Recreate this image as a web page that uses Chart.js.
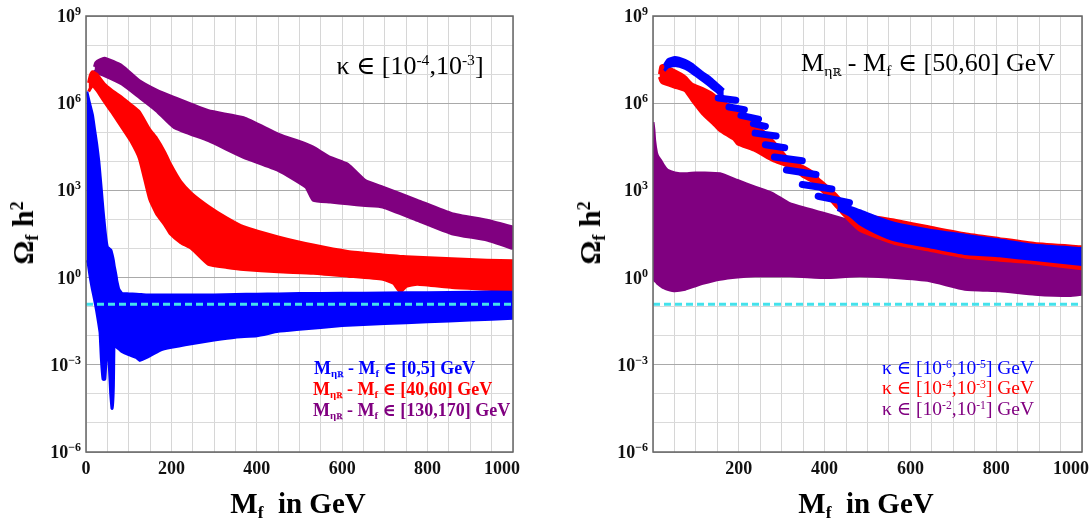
<!DOCTYPE html>
<html>
<head>
<meta charset="utf-8">
<title>Relic density scan</title>
<script src="https://cdn.jsdelivr.net/npm/chart.js@4.4.0/dist/chart.umd.min.js"></script>
<style>
html, body { margin: 0; padding: 0; background: #fff; }
#wrap { position: relative; width: 1092px; height: 521px; overflow: hidden;
        font-family: "Liberation Serif", "DejaVu Serif", serif; color: #000; }
canvas { position: absolute; top: 0; }
.lbl { position: absolute; white-space: nowrap; line-height: 1; }
.c { transform: translate(-50%, -50%); }
.l { transform: translate(0, -50%); }
.rot { transform: translate(-50%, -50%) rotate(-90deg); }
.sub { font-size: 0.6em; position: relative; top: 0.3em; }
.sup { font-size: 0.6em; position: relative; top: -0.55em; }
.bb { font-family: "DejaVu Serif", serif; font-size: 0.7em; }
.axt { font-weight: bold; font-size: 29px; }
.ayt { font-weight: bold; font-size: 30px; }
.ttl { font-size: 26px; }
.legL { font-size: 18px; font-weight: bold; }
.legR { font-size: 19.5px; }
</style>
</head>
<body>
<div id="wrap">
  <canvas id="left" width="546" height="521" style="left:0"></canvas>
  <canvas id="right" width="546" height="521" style="left:546px"></canvas>

  <div class="lbl rot ayt" style="left:23px; top:233px">Ω<span class="sub">f</span> h<span class="sup">2</span></div>
  <div class="lbl rot ayt" style="left:590px; top:233px">Ω<span class="sub">f</span> h<span class="sup">2</span></div>
  <div class="lbl c axt" style="left:298px; top:503px">M<span class="sub">f</span>&nbsp; in GeV</div>
  <div class="lbl c axt" style="left:866px; top:503px">M<span class="sub">f</span>&nbsp; in GeV</div>

  <div class="lbl c ttl" style="left:410px; top:66px">κ ∈ [10<span class="sup">-4</span>,10<span class="sup">-3</span>]</div>
  <div class="lbl c ttl" style="left:928px; top:63px">M<span class="sub">η<span class="bb">ℝ</span></span> - M<span class="sub">f</span> ∈ [50,60] GeV</div>

  <div class="lbl l legL" style="left:314px; top:368px; color:#0000ff">M<span class="sub">η<span class="bb">ℝ</span></span> - M<span class="sub">f</span> ∈ [0,5] GeV</div>
  <div class="lbl l legL" style="left:313px; top:389px; color:#ff0000">M<span class="sub">η<span class="bb">ℝ</span></span> - M<span class="sub">f</span> ∈ [40,60] GeV</div>
  <div class="lbl l legL" style="left:313px; top:410px; color:#800080">M<span class="sub">η<span class="bb">ℝ</span></span> - M<span class="sub">f</span> ∈ [130,170] GeV</div>

  <div class="lbl l legR" style="left:882px; top:368px; color:#0000ff">κ ∈ [10<span class="sup">-6</span>,10<span class="sup">-5</span>] GeV</div>
  <div class="lbl l legR" style="left:882px; top:388px; color:#ff0000">κ ∈ [10<span class="sup">-4</span>,10<span class="sup">-3</span>] GeV</div>
  <div class="lbl l legR" style="left:882px; top:409px; color:#800080">κ ∈ [10<span class="sup">-2</span>,10<span class="sup">-1</span>] GeV</div>
</div>
<script>
// values are log10(Omega h^2); x is M_f in GeV

// left panel, kappa in [1e-4,1e-3]
const blueLx    = [2, 5, 10, 15, 20, 25, 30, 33, 36, 40, 44, 47, 50, 54, 58, 61, 64, 66, 70, 72, 77, 85, 100, 118, 126, 142, 173, 200, 250, 300, 350, 400, 450, 500, 600, 700, 800, 900, 1000];
const blueLup   = [6.4, 6.2, 5.9, 5.6, 5.1, 4.6, 4.0, 3.5, 3.0, 2.3, 1.7, 1.3, 1.05, 1.0, 0.95, 0.8, 0.6, 0.4, 0.1, -0.1, -0.4, -0.55, -0.56, -0.57, -0.58, -0.6, -0.6, -0.6, -0.6, -0.6, -0.58, -0.57, -0.56, -0.55, -0.54, -0.53, -0.52, -0.5, -0.5];
const blueLlo   = [0.6, 0.5, 0.0, -0.4, -0.75, -1.15, -1.6, -1.9, -2.8, -3.5, -3.5, -2.8, -2.5, -2.9, -4.0, -4.5, -3.8, -2.0, -1.85, -2.4, -2.45, -2.55, -2.65, -2.75, -2.85, -2.75, -2.5, -2.4, -2.27, -2.15, -2.05, -2.0, -1.85, -1.78, -1.65, -1.58, -1.52, -1.46, -1.4];

const redLx     = [6, 10, 15, 25, 43, 60, 84, 105, 125, 149, 165, 185, 198, 222, 247, 287, 330, 369, 450, 532, 613, 695, 720, 736, 750, 776, 857, 939, 1000];
const redLup    = [6.7, 6.95, 7.08, 7.0, 6.66, 6.45, 6.2, 5.95, 5.7, 5.1, 4.8, 4.3, 3.9, 3.3, 2.9, 2.45, 2.05, 1.75, 1.4, 1.12, 0.9, 0.78, 0.75, 0.73, 0.72, 0.7, 0.65, 0.6, 0.58];
const redLlo    = [6.4, 6.5, 6.6, 6.45, 6.05, 5.7, 5.17, 4.7, 4.1, 2.7, 2.2, 1.8, 1.5, 1.2, 1.0, 0.45, 0.35, 0.28, 0.2, 0.15, 0.05, -0.06, -0.2, -0.5, -0.3, -0.23, -0.34, -0.4, -0.45];

const purpleLx  = [20, 23, 43, 84, 125, 165, 206, 287, 369, 450, 515, 532, 572, 613, 654, 695, 776, 857, 939, 1000];
const purpleLup = [7.25, 7.4, 7.55, 7.29, 6.77, 6.45, 6.2, 5.74, 5.5, 4.94, 4.6, 4.49, 4.14, 3.9, 3.34, 3.11, 2.66, 2.2, 1.97, 1.74];
const purpleLlo = [7.15, 7.06, 6.95, 6.66, 6.2, 5.74, 5.17, 4.71, 4.14, 3.69, 3.11, 2.66, 2.6, 2.54, 2.48, 2.43, 1.97, 1.51, 1.29, 1.0];

// right panel, M_eta - M_f in [50,60] GeV
// blue: arc near the peak, then a staircase of short dashes, then a band
const blueRarcX  = [26, 35, 51, 75, 91, 116, 132, 150, 165];
const blueRarcUp = [7.3, 7.5, 7.57, 7.47, 7.34, 7.05, 6.89, 6.65, 6.45];
const blueRarcLo = [7.12, 7.25, 7.3, 7.2, 7.05, 6.78, 6.6, 6.38, 6.2];

const blueRstepX = [152, 193, null, 177, 213, null, 205, 246, null, 234, 262, null, 238, 287, null,
                    262, 307, null, 283, 348, null, 311, 380, null, 348, 417, null, 385, 458];
const blueRstepY = [6.18, 6.1, null, 5.87, 5.78, null, 5.58, 5.45, null, 5.3, 5.2, null, 4.97, 4.87, null,
                    4.57, 4.47, null, 4.15, 4.02, null, 3.7, 3.55, null, 3.2, 3.05, null, 2.8, 2.58];

const blueRx    = [430, 458, 482, 520, 564, 645, 727, 808, 890, 1000];
const blueRup   = [2.55, 2.42, 2.3, 2.08, 1.86, 1.63, 1.46, 1.29, 1.11, 1.0];
const blueRlo   = [2.35, 2.15, 1.85, 1.55, 1.29, 1.06, 0.83, 0.75, 0.62, 0.45];

const redRx     = [15, 18, 22, 51, 75, 91, 116, 140, 156, 189, 197, 238, 279, 319, 352, 377, 385, 401, 427, 442, 482, 564, 645, 727, 808, 890, 1000];
const redRup    = [7.0, 7.25, 7.3, 7.11, 6.9, 6.66, 6.5, 6.31, 6.1, 5.86, 5.7, 5.29, 4.71, 4.03, 3.8, 3.57, 3.4, 3.2, 2.85, 2.6, 2.2, 1.97, 1.74, 1.51, 1.34, 1.17, 1.06];
const redRlo    = [6.9, 6.77, 6.7, 6.55, 6.43, 6.1, 5.63, 5.3, 5.06, 4.75, 4.6, 4.37, 4.03, 3.8, 3.46, 3.25, 3.11, 2.89, 2.45, 2.2, 1.63, 1.17, 0.94, 0.71, 0.6, 0.5, 0.3];

const purpleRx  = [0, 2, 4, 8, 12, 18, 25, 34, 51, 75, 99, 116, 156, 197, 238, 279, 319, 401, 482, 564, 645, 727, 808, 890, 971, 1000];
const purpleRup = [5.35, 5.1, 4.7, 4.3, 4.15, 4.03, 3.85, 3.69, 3.6, 3.57, 3.6, 3.6, 3.57, 3.34, 3.11, 2.89, 2.54, 2.2, 1.86, 1.51, 1.29, 1.17, 1.06, 0.94, 0.85, 0.83];
const purpleRlo = [0.0, -0.05, -0.1, -0.15, -0.22, -0.28, -0.35, -0.4, -0.45, -0.4, -0.28, -0.2, -0.06, 0.02, 0.06, 0.06, 0.06, 0.0, 0.06, 0.0, -0.11, -0.4, -0.45, -0.57, -0.62, -0.57];

const planckOmega = 0.12;

// tick labels
const yTickExp    = [9, 6, 3, 0, -3, -6];
const xTicksLeft  = [0, 200, 400, 600, 800, 1000];
const xTicksRight = [200, 400, 600, 800, 1000];

const BLUE = '#0000ff', RED = '#ff0000', PURPLE = '#800080', CYAN = '#44e2ec';

function band(xs, up, lo, color) {
    const common = {
        borderColor: color, backgroundColor: color, borderWidth: 3,
        pointRadius: 0, tension: 0.15, borderJoinStyle: 'round'
    };
    return [
        Object.assign({ data: xs.map((x, i) => ({ x: x, y: Math.pow(10, up[i]) })), fill: '+1' }, common),
        Object.assign({ data: xs.map((x, i) => ({ x: x, y: Math.pow(10, lo[i]) })), fill: false }, common)
    ];
}

function dashes(xs, ys, color) {
    let lastX = 0;
    const pts = xs.map((x, i) => {
        if (x === null || ys[i] === null) return { x: lastX, y: null };
        lastX = x;
        return { x: x, y: Math.pow(10, ys[i]) };
    });
    return [{
        data: pts, borderColor: color, backgroundColor: color, borderWidth: 7,
        borderCapStyle: 'round', pointRadius: 0, tension: 0, fill: false, spanGaps: false
    }];
}

function planckLine() {
    return {
        data: [{ x: 0, y: planckOmega }, { x: 1000, y: planckOmega }],
        borderColor: CYAN, borderWidth: 3, borderDash: [7, 4],
        pointRadius: 0, fill: false
    };
}

// frame + tick labels drawn on top of the plot
const framePlugin = {
    id: 'frame',
    afterDraw(chart, args, opts) {
        const ctx = chart.ctx, a = chart.chartArea;
        const xs = chart.scales.x, ys = chart.scales.y;
        ctx.save();
        ctx.strokeStyle = '#666';
        ctx.lineWidth = 1.5;
        ctx.strokeRect(a.left, a.top, a.right - a.left, a.bottom - a.top);

        ctx.fillStyle = '#111';
        ctx.textBaseline = 'alphabetic';
        ctx.font = 'bold 18px "Liberation Serif", serif';
        opts.xTicks.forEach(v => {
            const w = ctx.measureText(String(v)).width;
            let cx = xs.getPixelForValue(v);
            if (cx + w / 2 > a.right + 7) cx = a.right + 7 - w / 2;
            ctx.textAlign = 'center';
            ctx.fillText(String(v), cx, 474);
        });

        yTickExp.forEach(e => {
            const py = ys.getPixelForValue(Math.pow(10, e));
            const sup = (e < 0 ? '\u2212' : '') + Math.abs(e);
            ctx.font = 'bold 12px "Liberation Serif", serif';
            const sw = ctx.measureText(sup).width;
            ctx.textAlign = 'right';
            ctx.fillText(sup, a.left - 5, py - 1);
            ctx.font = 'bold 18px "Liberation Serif", serif';
            ctx.fillText('10', a.left - 5 - sw, py + 6);
        });
        ctx.restore();
    }
};

function makeChart(id, datasets, yWidth, padRight, xTicks) {
    return new Chart(document.getElementById(id), {
        type: 'line',
        data: { datasets: datasets },
        plugins: [framePlugin],
        options: {
            responsive: false,
            animation: false,
            devicePixelRatio: 1,
            events: [],
            layout: { padding: { left: 0, right: padRight, top: 16, bottom: 0 } },
            plugins: {
                legend: { display: false },
                tooltip: { enabled: false },
                frame: { xTicks: xTicks }
            },
            scales: {
                x: {
                    type: 'linear', min: 0, max: 1000,
                    afterBuildTicks: s => {
                        const t = [];
                        for (let v = 0; v <= 1000; v += 50) t.push({ value: v });
                        s.ticks = t;
                    },
                    ticks: { display: false },
                    grid: { color: '#d6d6d6', drawTicks: false, lineWidth: 1 },
                    border: { display: false },
                    afterFit: s => { s.height = 69; }
                },
                y: {
                    type: 'logarithmic', min: 1e-6, max: 1e9,
                    afterBuildTicks: s => {
                        const t = [];
                        for (let e = -6; e <= 9; e++) t.push({ value: Math.pow(10, e) });
                        s.ticks = t;
                    },
                    ticks: { display: false },
                    grid: {
                        drawTicks: false, lineWidth: 1,
                        color: c => {
                            const e = Math.round(Math.log10(c.tick.value));
                            return (e % 3 === 0) ? '#a9a9a9' : '#dadada';
                        }
                    },
                    border: { display: false },
                    afterFit: s => { s.width = yWidth; }
                }
            }
        }
    });
}

// index 0 is drawn last (on top)
const leftSets = [planckLine()]
    .concat(band(blueLx, blueLup, blueLlo, BLUE))
    .concat(band(redLx, redLup, redLlo, RED))
    .concat(band(purpleLx, purpleLup, purpleLlo, PURPLE));

const rightSets = [planckLine()]
    .concat(dashes(blueRstepX, blueRstepY, BLUE))
    .concat(band(blueRarcX, blueRarcUp, blueRarcLo, BLUE))
    .concat(band(blueRx, blueRup, blueRlo, BLUE))
    .concat(band(redRx, redRup, redRlo, RED))
    .concat(band(purpleRx, purpleRup, purpleRlo, PURPLE));

makeChart('left', leftSets, 86, 33, xTicksLeft);
makeChart('right', rightSets, 107, 10, xTicksRight);
</script>
</body>
</html>
